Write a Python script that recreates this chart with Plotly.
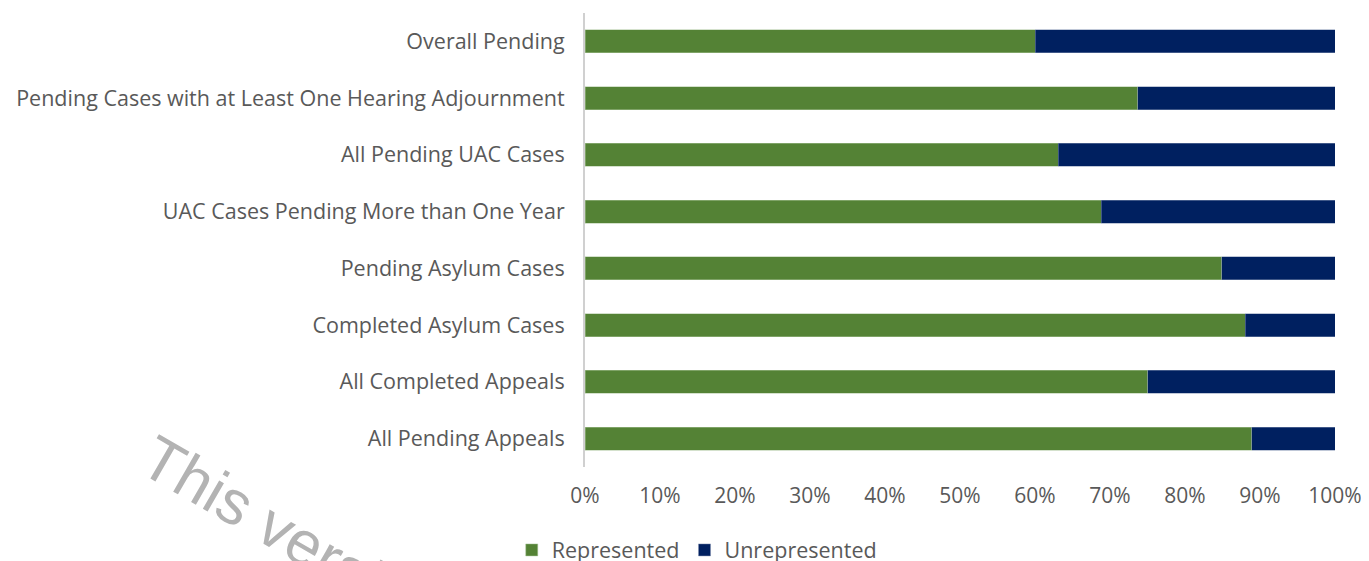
import plotly.graph_objects as go

categories = [
    "Overall Pending",
    "Pending Cases with at Least One Hearing Adjournment",
    "All Pending UAC Cases",
    "UAC Cases Pending More than One Year",
    "Pending Asylum Cases",
    "Completed Asylum Cases",
    "All Completed Appeals",
    "All Pending Appeals",
]
represented = [60.0, 73.7, 63.1, 68.8, 84.9, 88.0, 75.0, 88.9]
unrepresented = [round(100 - v, 1) for v in represented]
tick_vals = [0, 10, 20, 30, 40, 50, 60, 70, 80, 90, 100]
tick_text = [f"{v}%" for v in tick_vals]

GREEN = "#548235"
NAVY = "#002060"
TEXT = "#595959"
FONT = "Open Sans"

fig = go.Figure()
fig.add_trace(go.Bar(
    y=categories, x=represented, name="Represented", orientation="h",
    marker=dict(color=GREEN, line=dict(color="#a9c49a", width=0.5)),
))
fig.add_trace(go.Bar(
    y=categories, x=unrepresented, name="Unrepresented", orientation="h",
    marker=dict(color=NAVY, line=dict(color="#8090b0", width=0.5)),
))

fig.update_layout(
    barmode="stack",
    bargap=0.595,
    width=1361, height=553,
    margin=dict(l=577, r=34, t=5, b=94, autoexpand=False),
    paper_bgcolor="white", plot_bgcolor="white",
    font=dict(family=FONT, size=21, color=TEXT),
    legend=dict(orientation="h", x=0.149, xanchor="center", xref="paper",
                y=0.02, yanchor="middle", yref="container",
                font=dict(size=21.5, color=TEXT),
                traceorder="normal"),
    xaxis=dict(range=[0, 100], tickvals=tick_vals, ticktext=tick_text,
               showgrid=False, zeroline=False, showline=False,
               ticks="", ticklabelstandoff=14, automargin=False,
               tickfont=dict(size=21, color=TEXT)),
    yaxis=dict(autorange="reversed", showgrid=False, zeroline=False,
               showline=True, linecolor="#d0d0d0", linewidth=2,
               ticks="", ticklabelstandoff=14, automargin=False,
               tickfont=dict(size=21.5, color=TEXT)),
    annotations=[dict(
        text="This version", xref="paper", yref="paper",
        x=-0.61, y=0.105, xanchor="left", yanchor="top",
        textangle=30, showarrow=False,
        font=dict(family="Liberation Sans", size=62, color="#b3b3b3"),
    )],
)

fig.write_html("out.html")
